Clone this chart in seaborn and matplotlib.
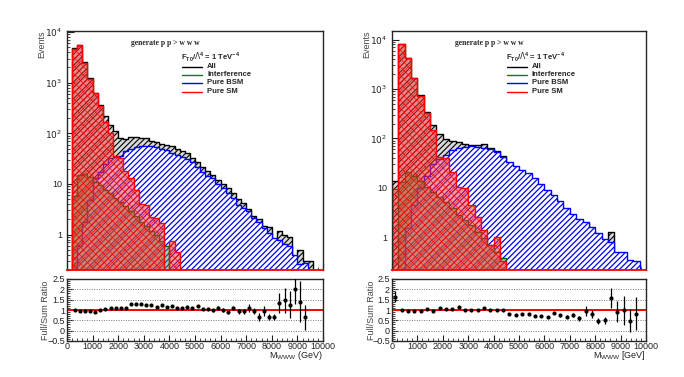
import numpy as np
import matplotlib
matplotlib.use("Agg")
import matplotlib.pyplot as plt
import seaborn as sns
from matplotlib.lines import Line2D
from matplotlib.ticker import FixedLocator, FixedFormatter, MultipleLocator, LogLocator, NullFormatter

# ---- data ----
# left panel: 200 GeV bins, 0..10000
edges_l = list(range(0, 10001, 200))
all_l = [0, 4800, 5600, 2550, 1230, 640, 360, 220, 148, 110,
         80, 78, 84, 85, 82, 80, 72, 66, 63, 58,
         55, 48, 44, 40, 33, 27, 22, 18, 15, 12,
         10, 8.2, 6.6, 5.0, 4.2, 3.2, 2.3, 2.0, 1.5, 1.4,
         0.62, 1.16, 1.0, 0.9, 0.35, 0.5, 0.3, 0.3, 0, 0]
int_l = [0, 5.8, 15, 16, 14, 11, 9.5, 7.6, 6.5, 5.2,
         4.4, 3.6, 2.9, 2.3, 1.8, 1.45, 1.16, 1.0, 0.74, 0.59] + [0] * 30
bsm_l = [0, 0, 0.6, 1.8, 4.9, 13, 17, 25, 32, 34,
         36, 44, 50, 54, 56, 57, 56, 54, 50, 46,
         41, 38, 34, 31, 27, 22, 17, 14.5, 13, 10,
         8.2, 6.5, 5.2, 3.9, 3.4, 2.9, 2.1, 1.8, 1.35, 1.08,
         0.86, 0.8, 0.64, 0.59, 0.4, 0.26, 0.27, 0, 0, 0]
sm_l = [0, 4700, 5500, 2500, 1200, 620, 350, 170, 100, 35,
        33, 18, 13, 7.5, 4, 3.9, 2.2, 2.1, 1.7, 0,
        0.75, 0.45] + [0] * 28

ratio_x_l = list(range(300, 9301, 200))
ratio_l = [1.02, 0.95, 0.95, 0.95, 0.92, 1.02, 1.05, 1.1, 1.1, 1.1,
           1.08, 1.27, 1.27, 1.27, 1.24, 1.24, 1.15, 1.25, 1.16, 1.19,
           1.11, 1.11, 1.13, 1.1, 1.19, 1.06, 1.06, 0.98, 1.1, 1.0,
           0.89, 1.1, 0.95, 0.94, 1.11, 0.97, 0.66, 0.94, 0.66, 0.66,
           1.34, 1.47, 1.26, 2.02, 1.4, 0.65]
ratio_err_l = [0.01, 0.01, 0.01, 0.02, 0.02, 0.03, 0.03, 0.03, 0.04, 0.04,
               0.04, 0.05, 0.05, 0.05, 0.05, 0.05, 0.05, 0.05, 0.05, 0.05,
               0.05, 0.05, 0.05, 0.06, 0.06, 0.06, 0.06, 0.07, 0.07, 0.08,
               0.08, 0.1, 0.12, 0.12, 0.2, 0.15, 0.2, 0.25, 0.15, 0.15,
               0.48, 0.6, 0.65, 0.75, 1.0, 0.6]

# right panel: 250 GeV bins, 0..10000
edges_r = list(range(0, 10001, 250))
all_r = [14, 8050, 4250, 1680, 740, 340, 190, 125, 95, 87,
         83, 76, 73, 72, 78, 63, 55, 43, 26, 21,
         18.5, 16, 11, 8.4, 5.9, 6.0, 4.1, 2.6, 2.2, 1.4,
         1.9, 1.3, 0.55, 0.45, 1.25, 0.46, 0.33, 0.17, 0.27, 0]
int_r = [0, 13, 21, 17, 14, 10.5, 8.3, 6.6, 5.2, 3.8,
         2.8, 2.2, 1.75, 1.28, 0.94, 0.69, 0.5, 0.37] + [0] * 22
bsm_r = [0, 0, 1.5, 4.5, 10, 17, 30, 38, 47, 58,
         65, 68, 70, 68, 65, 60, 52, 42, 33, 28,
         23, 20, 16, 12, 9, 7, 5.5, 3.8, 2.9, 2.3,
         2.0, 1.6, 1.2, 0.9, 0.8, 0.5, 0.5, 0.35, 0.33, 0]
sm_r = [9.4, 8000, 4200, 1650, 720, 320, 150, 42, 40, 21,
        10.5, 10, 4.4, 2.5, 1.4, 0.69, 1.0, 0.33] + [0] * 22

ratio_x_r = list(range(125, 9626, 250))
ratio_r = [1.65, 1.0, 0.97, 0.95, 0.97, 1.05, 0.97, 1.08, 1.05, 1.05,
           1.15, 1.0, 1.0, 1.0, 1.12, 1.02, 0.98, 1.0, 0.8, 0.75,
           0.8, 0.8, 0.7, 0.7, 0.65, 0.85, 0.75, 0.68, 0.75, 0.6,
           0.95, 0.8, 0.45, 0.5, 1.58, 0.92, 0.98, 0.48, 0.82]
ratio_err_r = [0.25, 0.02, 0.02, 0.02, 0.03, 0.03, 0.03, 0.03, 0.03, 0.03,
               0.03, 0.03, 0.03, 0.03, 0.03, 0.03, 0.03, 0.04, 0.04, 0.04,
               0.04, 0.04, 0.05, 0.05, 0.05, 0.06, 0.07, 0.08, 0.1, 0.12,
               0.25, 0.2, 0.15, 0.18, 0.5, 0.5, 0.7, 0.55, 0.8]

W, H = 684, 377

sns.set_style("ticks")
plt.rcParams["font.family"] = ["Liberation Sans", "DejaVu Sans"]
plt.rcParams["hatch.linewidth"] = 0.9
plt.rcParams["xtick.direction"] = "in"
plt.rcParams["ytick.direction"] = "in"

fig = plt.figure(figsize=(W / 100, H / 100), dpi=100)
fig.patch.set_facecolor("white")


def fx(px):
    return px / W


def fy(py):
    return 1 - py / H


def hist(ax, edges, vals, face, edge, hatch, lw=1.0, hatch_lw=0.9):
    centers = [(a + b) / 2 for a, b in zip(edges[:-1], edges[1:])]
    with plt.rc_context({"hatch.linewidth": hatch_lw}):
        sns.histplot(x=centers, weights=vals, bins=edges, element="step", fill=True,
                     facecolor=face, edgecolor=edge, hatch=hatch, linewidth=lw, ax=ax)


def main_panel(left, width, edges, a, i, b, s, ylim, tag_x, leg_x, lab_x):
    ax = fig.add_axes([fx(left), fy(270), fx(width), 239 / H])
    hist(ax, edges, a, (0.85, 0.85, 0.85), "black", "//////", hatch_lw=0.8)
    hist(ax, edges, b, (1.0, 1.0, 1.0), "blue", "//////")
    hist(ax, edges, i, (0.3, 0.6, 0.2, 0.45), "darkgreen", None)
    hist(ax, edges, s, (1.0, 0.2, 0.2, 0.5), "red", "xxxx", hatch_lw=0.45)
    ax.set_yscale("log")
    ax.set_xlim(0, 10000)
    ax.set_ylim(*ylim)
    ax.set_xlabel("")
    ax.set_ylabel("")
    ax.yaxis.set_major_locator(FixedLocator([1, 10, 100, 1000, 10000]))
    ax.yaxis.set_major_formatter(FixedFormatter(["1", "10", r"$10^{2}$", r"$10^{3}$", r"$10^{4}$"]))
    ax.yaxis.set_minor_locator(LogLocator(subs=np.arange(2, 10)))
    ax.yaxis.set_minor_formatter(NullFormatter())
    ax.xaxis.set_major_locator(MultipleLocator(1000))
    ax.xaxis.set_minor_locator(MultipleLocator(200))
    ax.tick_params(axis="x", labelbottom=False)
    ax.tick_params(which="major", length=5, width=0.8, labelsize=6.5, colors="#222222")
    ax.tick_params(which="minor", length=2.5, width=0.6)
    for sp in ax.spines.values():
        sp.set_linewidth(1.0)
    # zero bins of the SM histogram sit on the frame bottom, as ROOT draws them
    ax.spines["bottom"].set_color("red")
    ax.spines["bottom"].set_linewidth(1.3)
    fig.text(fx(lab_x), fy(31), "Events", rotation=90, ha="center", va="top",
             fontsize=6.5, color="#444444")
    fig.text(fx(tag_x), fy(43), "generate p p > w w w", family="Liberation Serif",
             fontweight="bold", fontsize=5.5, ha="left", va="center")
    fig.text(fx(leg_x), fy(57),
             r"F$_{\mathregular{T0}}$/$\Lambda^{\mathregular{4}}$ = 1 TeV$^{\mathregular{-4}}$",
             fontweight="bold", fontsize=5.5, ha="left", va="center")
    names = ["All", "Interference", "Pure BSM", "Pure SM"]
    cols = ["black", "green", "blue", "red"]
    ys = [66.5, 74.5, 83, 91.5]
    for n, c, yy in zip(names, cols, ys):
        fig.add_artist(Line2D([fx(leg_x + 1), fx(leg_x + 21)], [fy(yy), fy(yy)],
                              color=c, lw=1.0, transform=fig.transFigure))
        fig.text(fx(leg_x + 26), fy(yy), n, fontweight="bold", fontsize=5.5,
                 ha="left", va="center")
    return ax


def ratio_panel(left, width, xs, ys, errs, xlabel, lab_x):
    ax = fig.add_axes([fx(left), fy(341), fx(width), 62 / H])
    ax.set_xlim(0, 10000)
    ax.set_ylim(-0.5, 2.5)
    for g in [0, 0.5, 1.0, 1.5, 2.0]:
        ax.axhline(g, color="#777777", lw=0.7, ls=(0, (1, 1.5)), zorder=1)
    ax.axhline(1.0, color="red", lw=1.4, zorder=2)
    ax.errorbar(xs, ys, yerr=errs, fmt="none", ecolor="black", elinewidth=0.9, zorder=3)
    sns.scatterplot(x=xs, y=ys, color="black", s=9, edgecolor="black", linewidth=0, ax=ax, zorder=4)
    ax.yaxis.set_major_locator(FixedLocator([-0.5, 0, 0.5, 1, 1.5, 2, 2.5]))
    ax.yaxis.set_major_formatter(FixedFormatter(["\u22120.5", "0", "0.5", "1", "1.5", "2", "2.5"]))
    ax.yaxis.set_minor_locator(MultipleLocator(0.1))
    ax.xaxis.set_major_locator(MultipleLocator(1000))
    ax.xaxis.set_minor_locator(MultipleLocator(200))
    ax.tick_params(which="major", length=4, width=0.8, labelsize=6.5, colors="#222222")
    ax.tick_params(axis="x", pad=0.5)
    ax.tick_params(axis="y", pad=1.5)
    ax.tick_params(which="minor", length=2, width=0.6)
    for sp in ax.spines.values():
        sp.set_linewidth(1.0)
    fig.text(fx(left + width), fy(349.5), xlabel, ha="right", va="top", fontsize=6.5,
             color="#222222")
    fig.text(fx(lab_x), fy(310), "Full/Sum Ratio", rotation=90, ha="center", va="center",
             fontsize=6.5, color="#444444")
    return ax


main_panel(67, 256, edges_l, all_l, int_l, bsm_l, sm_l, (0.2, 1.05e4), 131, 181, 42)
main_panel(392, 254, edges_r, all_r, int_r, bsm_r, sm_r, (0.215, 1.5e4), 455, 506, 367)
ratio_panel(67, 256, ratio_x_l, ratio_l, ratio_err_l,
            r"M$_{\mathregular{WWW}}$ (GeV)", 45)
ratio_panel(392, 254, ratio_x_r, ratio_r, ratio_err_r,
            r"M$_{\mathregular{WWW}}$ [GeV]", 371)

fig.savefig("out.png", dpi=100)
